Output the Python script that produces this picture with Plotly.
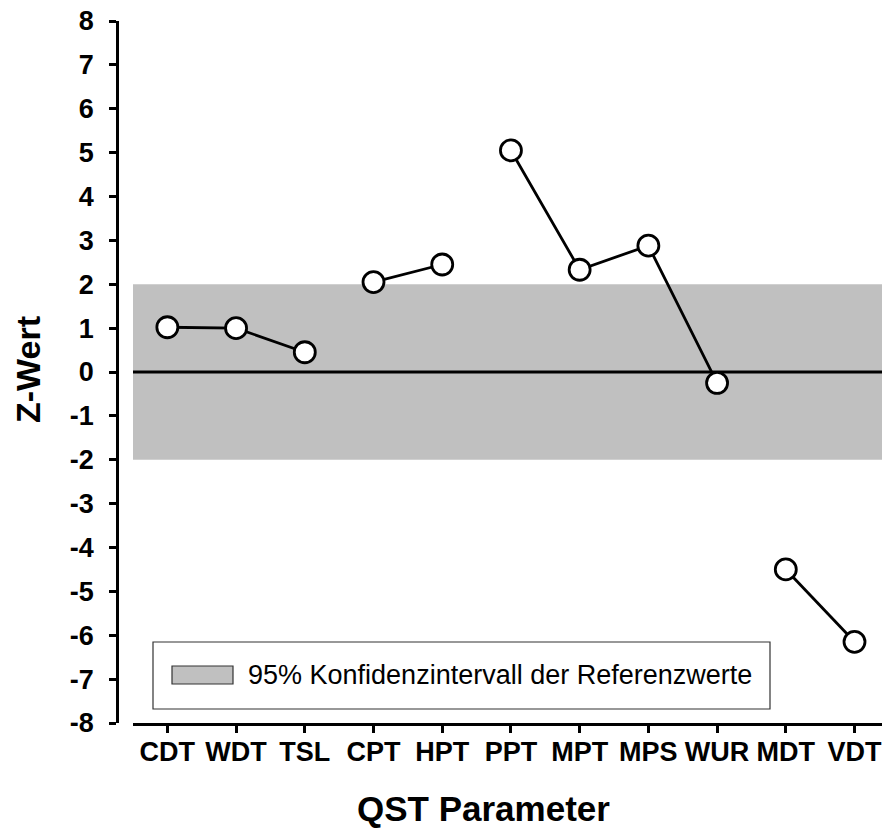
import plotly.graph_objects as go

# QST-Profil: Z-Werte je Parameter
categories = ["CDT", "WDT", "TSL", "CPT", "HPT", "PPT", "MPT", "MPS", "WUR", "MDT", "VDT"]
z_values = [1.02, 1.0, 0.45, 2.05, 2.45, 5.05, 2.33, 2.88, -0.25, -4.5, -6.15]
segment = [0, 0, 0, 1, 1, 2, 2, 2, 2, 3, 3]  # connected groups
ci_low, ci_high = -2, 2
y_ticks = list(range(-8, 9))
legend_text = "95% Konfidenzintervall der Referenzwerte"

W, H = 882, 839
X0, X1, Y0, Y1 = 117, 882, 21, 723  # plot box in pixels
FONT = "Arial, Liberation Sans, sans-serif"


def px(x):
    return (x - X0) / (X1 - X0)


def py(y):
    return (Y1 - y) / (Y1 - Y0)


fig = go.Figure()
for g in sorted(set(segment)):
    idx = [i for i, s in enumerate(segment) if s == g]
    fig.add_scatter(
        x=[categories[i] for i in idx],
        y=[z_values[i] for i in idx],
        mode="lines+markers",
        line=dict(color="black", width=2.8),
        marker=dict(size=21, color="white", line=dict(color="black", width=2.8)),
        showlegend=False,
        cliponaxis=False,
    )

# grey reference band and zero line
fig.add_shape(type="rect", xref="x domain", yref="y", x0=0, x1=1, y0=ci_low, y1=ci_high,
              fillcolor="#c0c0c0", line=dict(width=0), layer="below")
fig.add_shape(type="line", xref="x domain", yref="y", x0=0, x1=1, y0=0, y1=0,
              line=dict(color="black", width=3.2), layer="below")

# hand-made legend box
fig.add_shape(type="rect", xref="paper", yref="paper", x0=px(153), x1=px(770), y0=py(709), y1=py(642),
              line=dict(color="#333333", width=1.2), fillcolor="white")
fig.add_shape(type="rect", xref="paper", yref="paper", x0=px(172), x1=px(233), y0=py(684), y1=py(666),
              line=dict(color="#333333", width=1.2), fillcolor="#c0c0c0")
fig.add_annotation(x=px(246), y=py(675), xref="paper", yref="paper", text=legend_text,
                   showarrow=False, xanchor="left", yanchor="middle",
                   font=dict(family=FONT, size=27, color="black"))

# axis titles
fig.add_annotation(x=px(28), y=py(370), xref="paper", yref="paper", text="<b>Z-Wert</b>",
                   textangle=-90, showarrow=False, xanchor="center", yanchor="middle",
                   font=dict(family=FONT, size=34, color="black"))
fig.add_annotation(x=px(483), y=py(808), xref="paper", yref="paper", text="<b>QST Parameter</b>",
                   showarrow=False, xanchor="center", yanchor="middle",
                   font=dict(family=FONT, size=35, color="black"))

fig.update_layout(
    width=W, height=H,
    margin=dict(l=X0, r=W - X1, t=Y0, b=H - Y1, autoexpand=False),
    plot_bgcolor="white", paper_bgcolor="white",
    showlegend=False,
    font=dict(family=FONT, color="black"),
    xaxis=dict(
        type="category", categoryorder="array", categoryarray=categories,
        range=[-0.5, 10.4], domain=[px(133), 1], automargin=False,
        showline=True, linecolor="black", linewidth=2.8,
        ticks="outside", ticklen=7, tickwidth=2.8, tickcolor="black",
        showgrid=False, zeroline=False,
        tickvals=categories, ticktext=[f"<b>{c}</b>" for c in categories],
        tickfont=dict(family=FONT, size=27, color="black"),
        ticklabelstandoff=-4, ticklabeloverflow="allow",
    ),
    yaxis=dict(
        range=[-8, 8], anchor="free", position=0, automargin=False,
        showline=True, linecolor="black", linewidth=2.8,
        ticks="outside", ticklen=7, tickwidth=2.8, tickcolor="black",
        showgrid=False, zeroline=False,
        tickvals=y_ticks, ticktext=[f"<b>{v}</b>" for v in y_ticks],
        tickfont=dict(family=FONT, size=27, color="black"),
        ticklabelstandoff=10, ticklabeloverflow="allow",
    ),
)

# drop the browser's default page margin so the figure fills the window
fig.write_html("out.html", config={"displayModeBar": False},
               post_script="document.body.style.margin = '0';")
